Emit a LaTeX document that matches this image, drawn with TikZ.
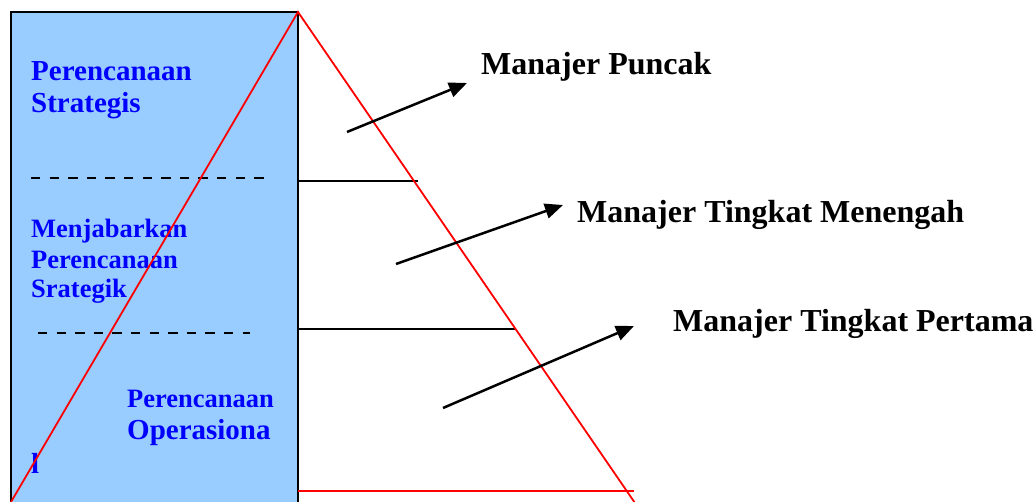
\documentclass[tikz,border=0pt]{standalone}
\usepackage{fontspec}
\setmainfont{Liberation Serif}
\usetikzlibrary{arrows.meta}
\definecolor{boxblue}{HTML}{99CCFF}
\definecolor{txtblue}{HTML}{0000FF}
\tikzset{
  bluetxt/.style={anchor=base west, inner sep=0pt, text=txtblue, font=\bfseries\fontsize{29}{32}\selectfont},
  bluesmall/.style={anchor=base west, inner sep=0pt, text=txtblue, font=\bfseries\fontsize{26.5}{30}\selectfont},
  mgrtxt/.style={anchor=base west, inner sep=0pt, text=black, font=\bfseries\fontsize{32}{36}\selectfont},
  redline/.style={draw=red, line width=1.8pt},
  blackline/.style={draw=black, line width=2pt},
  dashline/.style={draw=black, line width=1.5pt, dash pattern=on 9.3pt off 9.3pt},
  pointer/.style={draw=black, line width=2.5pt, -{Triangle[length=18pt,width=15pt]}}
}
\begin{document}
\begin{tikzpicture}[x=1pt,y=-1pt]
\useasboundingbox (0,0) rectangle (1036,502);
% box
\path[fill=boxblue, draw=black, line width=2.4pt] (11,12) rectangle (298,520);
% coordinates
\coordinate (apex) at (298,12);
\coordinate (bl) at (11,502);
\coordinate (br) at (635,503);
\coordinate (h1a) at (298,181);
\coordinate (h1b) at (418,181);
\coordinate (h2a) at (298,329);
\coordinate (h2b) at (515,329);
\coordinate (h3a) at (298,491);
\coordinate (h3b) at (634,491);
\coordinate (d1a) at (31,178);
\coordinate (d1b) at (264,178);
\coordinate (d2a) at (38,333);
\coordinate (d2b) at (250,333);
% texts in box
\node[bluetxt] (t1) at (31,81) {Perencanaan};
\node[bluetxt] (t2) at (31,113) {Strategis};
\node[bluesmall] (t3) at (31,238) {Menjabarkan};
\node[bluesmall] (t4) at (31,269) {Perencanaan};
\node[bluesmall] (t5) at (31,298) {Srategik};
\node[bluesmall] (t6) at (127,407) {Perencanaan};
\node[bluetxt] (t7) at (127,439) {Operasiona};
\node[bluetxt] (t8) at (31,473) {l};
% dashed separators
\draw[dashline] (d1a) -- (d1b);
\draw[dashline] (d2a) -- (d2b);
% level lines
\draw[blackline] (h1a) -- (h1b);
\draw[blackline] (h2a) -- (h2b);
\draw[redline] (h3a) -- (h3b);
% triangle
\draw[redline] (bl) -- (apex) -- (br);
% labels
\node[mgrtxt] (m1) at (481,75) {Manajer Puncak};
\node[mgrtxt] (m2) at (577,223) {Manajer Tingkat Menengah};
\node[mgrtxt] (m3) at (673,332) {Manajer Tingkat Pertama};
% arrows
\coordinate (a1s) at (347,132);
\coordinate (a1e) at (467,83);
\coordinate (a2s) at (396,264);
\coordinate (a2e) at (563,205);
\coordinate (a3s) at (443,408);
\coordinate (a3e) at (634,326);
\draw[pointer] (a1s) -- (a1e);
\draw[pointer] (a2s) -- (a2e);
\draw[pointer] (a3s) -- (a3e);
\end{tikzpicture}
\end{document}
